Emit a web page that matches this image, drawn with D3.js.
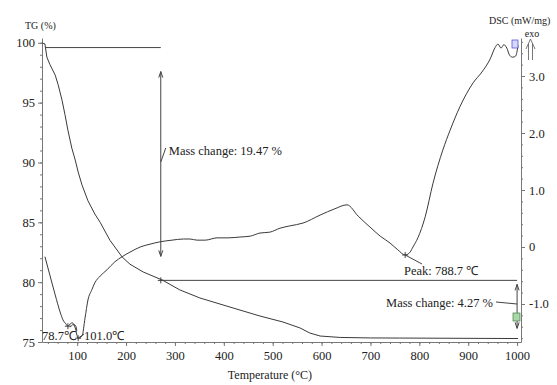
<!DOCTYPE html>
<html>
<head>
<meta charset="utf-8">
<script src="https://cdn.jsdelivr.net/npm/d3@7"></script>
<style>
  body { margin: 0; background: #fff; }
  svg text { font-family: "Liberation Serif", "Times New Roman", serif; fill: #222; }
</style>
</head>
<body>
<div id="chart"></div>
<script>
// TG curve (temperature in C, mass in %)
const tgTemp = [28, 34, 38, 44, 55, 61, 69, 75, 81, 89, 96, 102, 110, 122, 136, 147, 167, 192, 208, 235, 274,
  310, 351, 419, 474, 521, 556, 576, 597, 638, 700, 760, 1002];
const tgMass = [100, 99.9, 98.8, 98.2, 97.3, 96.5, 95.2, 94.0, 92.7, 91.2, 90.2, 89.2, 88.1, 86.8, 85.7, 85.0, 83.5, 82.1, 81.5, 80.85, 80.18,
  79.35, 78.68, 77.84, 77.17, 76.67, 76.17, 75.75, 75.5, 75.38, 75.34, 75.33, 75.29];

// DSC curve (temperature in C, mW/mg)
const dscTemp = [34, 44, 55, 65, 71, 77, 81, 87, 90, 96, 102, 110, 116, 122, 130, 136, 147, 161, 177, 192, 208, 229, 249, 269, 294,
  317, 331, 345, 362, 386, 409, 433, 454, 474, 494, 515, 535, 562, 597, 627, 652, 675, 699, 720, 740, 756, 771, 781, 787, 797,
  812, 828, 848, 863, 883, 910, 928, 945, 955, 961, 967, 973, 979, 985, 991, 997, 1002];
const dscVal = [-0.17, -0.49, -0.84, -1.14, -1.28, -1.35, -1.39, -1.34, -1.33, -1.42, -1.6, -1.56, -1.25, -0.93, -0.75, -0.63, -0.51, -0.4, -0.26, -0.17, -0.09, 0, 0.05, 0.09, 0.12,
  0.14, 0.14, 0.12, 0.12, 0.16, 0.16, 0.175, 0.19, 0.245, 0.26, 0.33, 0.37, 0.42, 0.56, 0.67, 0.74, 0.54, 0.35, 0.19, 0.07, -0.05, -0.14, -0.09, 0, 0.16,
  0.53, 1.12, 1.7, 2.05, 2.46, 2.88, 3.07, 3.3, 3.5, 3.56, 3.49, 3.55, 3.49, 3.36, 3.33, 3.35, 3.54];

const xTicks = [100, 200, 300, 400, 500, 600, 700, 800, 900, 1000];
const tgTicks = [75, 80, 85, 90, 95, 100];
const dscTicks = [-1, 0, 1, 2, 3];
const dscTickLabels = ["-1.0", "0", "1.0", "2.0", "3.0"];

// mass change steps: level lines and arrow span
const stepTemp = [34, 271, 1000];
const stepMass = [99.6, 80.15];
const stepLabels = ["Mass change: 19.47 %", "Mass change: 4.27 %"];

// DSC peak markers
const peakTemp = [81, 102, 771];
const peakLabels = ["78.7\u2103", "101.0\u2103", "Peak: 788.7 \u2103"];

const width = 557, height = 385;
const svg = d3.select("#chart").append("svg")
  .attr("width", width).attr("height", height);

const x = d3.scaleLinear().domain([28, 1008]).range([42, 521]);
const yTG = d3.scaleLinear().domain([75, 100.4]).range([342, 38]);
const yDSC = d3.scaleLinear().domain([-1.667, 3.667]).range([342, 38]);

const axisColor = "#777";
const lineColor = "#3a3a3a";

function styleAxis(g) {
  g.selectAll("path, line").attr("stroke", axisColor);
  g.selectAll("text").attr("font-size", 12.5).attr("fill", "#222")
    .attr("font-family", "Liberation Serif, serif");
}

// minor ticks
svg.append("g").attr("transform", "translate(0,342)")
  .call(d3.axisBottom(x).tickValues(d3.range(40, 1001, 20)).tickSize(2).tickFormat(""))
  .call(g => g.select(".domain").remove())
  .call(styleAxis);
svg.append("g").attr("transform", "translate(42,0)")
  .call(d3.axisLeft(yTG).tickValues(d3.range(75, 101, 1)).tickSize(2).tickFormat(""))
  .call(g => g.select(".domain").remove())
  .call(styleAxis);
svg.append("g").attr("transform", "translate(521,0)")
  .call(d3.axisRight(yDSC).tickValues(d3.range(-1.6, 3.61, 0.2)).tickSize(2).tickFormat(""))
  .call(g => g.select(".domain").remove())
  .call(styleAxis);

// major axes
svg.append("g").attr("transform", "translate(0,342)")
  .call(d3.axisBottom(x).tickValues(xTicks).tickSize(4).tickSizeOuter(0).tickPadding(5)
    .tickFormat(d3.format("d")))
  .call(styleAxis);
svg.append("g").attr("transform", "translate(42,0)")
  .call(d3.axisLeft(yTG).tickValues(tgTicks).tickSize(4).tickSizeOuter(0).tickPadding(3))
  .call(styleAxis);
svg.append("g").attr("transform", "translate(521,0)")
  .call(d3.axisRight(yDSC).tickValues(dscTicks).tickSize(4).tickSizeOuter(0).tickPadding(4)
    .tickFormat((d, i) => dscTickLabels[i]))
  .call(styleAxis);

// axis titles
svg.append("text").attr("x", 270).attr("y", 379).attr("text-anchor", "middle")
  .attr("font-size", 12).text("Temperature (\u00B0C)");
svg.append("text").attr("x", 25).attr("y", 29).attr("font-size", 10).text("TG (%)");
svg.append("text").attr("x", 489).attr("y", 24).attr("font-size", 10).text("DSC (mW/mg)");
svg.append("text").attr("x", 532).attr("y", 37).attr("text-anchor", "middle")
  .attr("font-size", 10).text("exo");
svg.append("path")
  .attr("d", "M526,49 L530.5,39 L535,49 M528.5,44 L528.5,60 M532.5,44 L532.5,60")
  .attr("fill", "none").attr("stroke", "#555").attr("stroke-width", 0.8);

// curves
const tgLine = d3.line().x((d, i) => x(tgTemp[i])).y(d => yTG(d));
svg.append("path").datum(tgMass).attr("d", tgLine)
  .attr("fill", "none").attr("stroke", lineColor).attr("stroke-width", 1);

const dscLine = d3.line().curve(d3.curveMonotoneX).x((d, i) => x(dscTemp[i])).y(d => yDSC(d));
svg.append("path").datum(dscVal).attr("d", dscLine)
  .attr("fill", "none").attr("stroke", lineColor).attr("stroke-width", 1);

// mass change annotations
const ann = svg.append("g").attr("stroke", "#444").attr("stroke-width", 1).attr("fill", "none");
ann.append("line")
  .attr("x1", x(stepTemp[0])).attr("x2", x(stepTemp[1]))
  .attr("y1", yTG(stepMass[0])).attr("y2", yTG(stepMass[0]));
ann.append("line")
  .attr("x1", x(stepTemp[1])).attr("x2", x(stepTemp[2]))
  .attr("y1", yTG(stepMass[1])).attr("y2", yTG(stepMass[1]));

function vArrow(xp, yTop, yBot) {
  ann.append("line").attr("x1", xp).attr("x2", xp).attr("y1", yTop).attr("y2", yBot);
  ann.append("path").attr("d", `M${xp - 2},${yTop + 6} L${xp},${yTop} L${xp + 2},${yTop + 6}`);
  ann.append("path").attr("d", `M${xp - 2},${yBot - 6} L${xp},${yBot} L${xp + 2},${yBot - 6}`);
}
vArrow(x(stepTemp[1]), yTG(stepMass[0]) + 24, yTG(stepMass[1]) - 24);
vArrow(x(stepTemp[2]), yTG(stepMass[1]) + 4, yTG(stepMass[1]) + 48);

ann.append("line").attr("x1", x(stepTemp[1])).attr("y1", 162).attr("x2", x(stepTemp[1]) + 5).attr("y2", 148);
svg.append("text").attr("x", x(stepTemp[1]) + 8).attr("y", 155).attr("font-size", 12.5).text(stepLabels[0]);
ann.append("line").attr("x1", 496).attr("y1", 302).attr("x2", x(stepTemp[2])).attr("y2", 304);
svg.append("text").attr("x", 493).attr("y", 307).attr("font-size", 12.5)
  .attr("text-anchor", "end").text(stepLabels[1]);

// TG marker at step level
function cross(cx, cy) {
  ann.append("path").attr("d", `M${cx - 3},${cy} L${cx + 3},${cy} M${cx},${cy - 3} L${cx},${cy + 3}`);
}
cross(x(stepTemp[1]), yTG(stepMass[1]));

// DSC peak markers and labels
const dscAt = t => dscVal[d3.bisectLeft(dscTemp, t)];
peakTemp.forEach((t, i) => cross(x(t), yDSC(dscAt(t))));

svg.append("text").attr("x", 42).attr("y", 340).attr("font-size", 12.5).text(peakLabels[0]);
ann.append("path").attr("d", `M${x(peakTemp[0]) + 2},${yDSC(dscAt(peakTemp[0])) + 1} Q${x(peakTemp[0]) + 8},${yDSC(dscAt(peakTemp[0])) - 6} ${x(peakTemp[0]) + 9},${331}`);
svg.append("text").attr("x", 84).attr("y", 340).attr("font-size", 12.5).text(peakLabels[1]);
ann.append("line").attr("x1", 84).attr("y1", 334).attr("x2", x(peakTemp[1])).attr("y2", yDSC(dscAt(peakTemp[1])));
svg.append("text").attr("x", 404).attr("y", 275).attr("font-size", 12.5).text(peakLabels[2]);
ann.append("line").attr("x1", x(peakTemp[2])).attr("y1", yDSC(dscAt(peakTemp[2])))
  .attr("x2", 422).attr("y2", 264);

// small segment markers
svg.append("rect").attr("x", 513).attr("y", 313).attr("width", 7).attr("height", 8)
  .attr("fill", "#a8d8a8").attr("stroke", "#4a7a4a").attr("stroke-width", 0.7);
svg.append("rect").attr("x", 512).attr("y", 40).attr("width", 6).attr("height", 8)
  .attr("fill", "#d8d8ff").attr("stroke", "#4444cc").attr("stroke-width", 0.7);
</script>
</body>
</html>
